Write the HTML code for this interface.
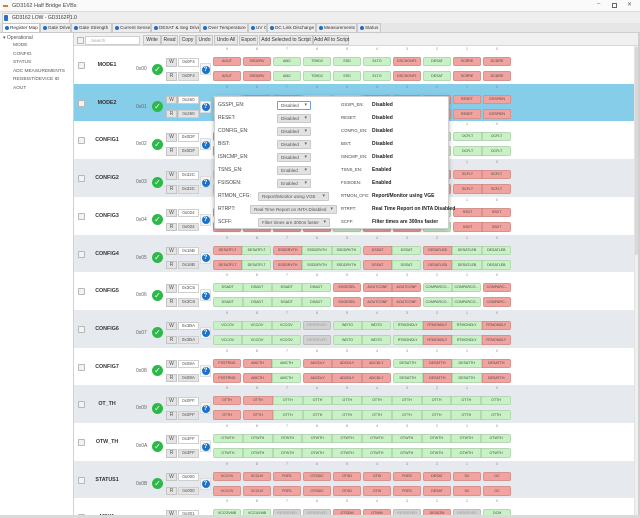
<!DOCTYPE html>
<html style="overflow:hidden"><head><meta charset="utf-8">
<style>
*{box-sizing:border-box}
html,body{margin:0;padding:0;width:640px;height:518px;overflow:hidden;background:#fff}
#root{position:relative;width:640px;height:518px;overflow:hidden;background:#fff;font-family:"Liberation Sans",sans-serif;color:#333}
.a{position:absolute}
.row{position:absolute;left:74px;width:560px;height:37.7px}
.w{background:#fff}.gy{background:#e6e9ed}.bl{background:#86cdea}
.cb{position:absolute;left:4px;top:16px;width:7px;height:7px;border:1px solid #b8b8b8;background:#f3f3f3;border-radius:1px}
.nm{position:absolute;left:10px;width:46px;top:16px;text-align:center;font-size:5.3px;font-weight:bold;color:#333}
.ad{position:absolute;left:62px;top:20px;font-size:5px;color:#666}
.ok{position:absolute;left:78px;top:17.5px;width:11px;height:11px;border-radius:50%;background:#2db84a;color:#fff;font-size:8px;line-height:11px;text-align:center;font-weight:bold;font-family:"DejaVu Sans",sans-serif}
.bw{position:absolute;left:92px;width:11px;height:8.5px;background:#e4e4e4;border:1px solid #c4c4c4;font-size:5px;line-height:6.5px;text-align:center;color:#555}
.vw{position:absolute;left:104px;width:21px;height:8.5px;background:#fff;border:1px solid #cfcfcf;font-size:4.5px;line-height:6.5px;text-align:center;color:#555}
.vr{background:#e4e4e4}
.hp{position:absolute;left:126px;top:17px;width:11px;height:12px;background:#f4f4f4;border:1px solid #dcdcdc;border-radius:1px}
.hp b{position:absolute;left:0.5px;top:1.5px;width:8px;height:8px;border-radius:50%;background:#1a73c8;color:#fff;font-size:6px;line-height:8px;text-align:center}
.lb{position:absolute;left:139px;top:1px;display:flex;font-size:3.5px;color:#888;line-height:5px}
.lb span{width:30px;padding-right:2px;text-align:center}
.c{position:absolute;left:139px;display:flex;gap:2px;height:9px;font-size:3.6px;line-height:9px;color:#4a4a4a}
.t{top:11px}.u{top:25px;height:10px;line-height:10px}
.c>i,.c>div>i{font-style:normal;text-align:center;white-space:nowrap;overflow:hidden;box-shadow:inset 0 0 0 0.6px rgba(0,0,0,.16)}
.c>i{width:28px;border-radius:2px}
.c>div{display:flex;border-radius:2px;overflow:hidden}
.c>div>i{flex:1}
.w2{width:58px}.w3{width:88px}.w4{width:118px}.w10{width:298px}
.r{background:#f0a39f}.G{background:#c8f1c5}.x{background:#d2d2d2;color:#9a9a9a}
.tab{position:absolute;top:23px;height:10px;border:1px solid #c9c9c9;background:#ececec;font-size:4.7px;line-height:8px;color:#333;padding-left:7px;white-space:nowrap;overflow:hidden}
.tab:before{content:"";position:absolute;left:1.5px;top:2px;width:4px;height:4px;border-radius:50%;background:#1c6fc4}
.btn{position:absolute;top:35px;height:10px;background:#e9e9e9;border:1px solid #c6c6c6;font-size:5px;line-height:8px;text-align:center;color:#333;white-space:nowrap}
.tr{position:absolute;left:13px;font-size:4.8px;color:#555}
.pl{position:absolute;left:3px;font-size:5px;color:#444}
.pd{position:absolute;height:9px;background:#e2e2e2;border:1px solid #c9c9c9;font-size:4.6px;line-height:7px;color:#555;padding-left:3px;border-radius:1px;white-space:nowrap}
.pd:after{content:"\25BE";position:absolute;right:3px;top:0;font-size:5px;font-family:"DejaVu Sans",sans-serif;color:#666}
.pr{position:absolute;left:126px;font-size:4.3px;color:#444;width:31px;overflow:hidden;white-space:nowrap}
.pv{position:absolute;left:157px;font-size:5px;color:#222;font-weight:bold;white-space:nowrap}
</style></head><body><div id="root">

<!-- title bar -->
<div class="a" style="left:0;top:0;width:640px;height:12px;background:#fafafa;border-bottom:1px solid #dcdcdc"></div>
<div class="a" style="left:3px;top:5px;width:5px;height:2px;background:#e07a1f"></div>
<div class="a" style="left:12px;top:3px;font-size:5.5px;color:#444">GD3162 Half Bridge EVBs</div>
<div class="a" style="left:597px;top:1px;font-size:6px;color:#666">–</div>
<div class="a" style="left:612px;top:3px;width:5px;height:5px;border:0.8px solid #666"></div>
<div class="a" style="left:627px;top:1px;font-size:6px;color:#666;font-family:'DejaVu Sans',sans-serif">✕</div>

<!-- second bar -->
<div class="a" style="left:0;top:12px;width:640px;height:11px;background:#eeeeee"></div>
<div class="a" style="left:2px;top:13px;width:68px;height:10px;background:#f7f7f7;border:1px solid #cfcfcf;border-bottom:none"></div>
<div class="a" style="left:4px;top:15px;width:4px;height:6px;background:#2a6fbf;border-radius:1px"></div>
<div class="a" style="left:12px;top:15px;font-size:5px;color:#333">GD3162 LOW - GD3162P1.0</div>

<!-- tabs row -->
<div class="a" style="left:0;top:23px;width:640px;height:10px;background:#e6e6e6;border-bottom:1px solid #cfcfcf"></div>
<div class="tab" style="left:2px;width:38px;background:#fff">Register Map</div>
<div class="tab" style="left:40px;width:31px">Gate Drive</div>
<div class="tab" style="left:71px;width:41px">Gate Strength</div>
<div class="tab" style="left:112px;width:39px">Current Sense</div>
<div class="tab" style="left:151px;width:49px">DESAT &amp; Seg Drive</div>
<div class="tab" style="left:200px;width:48px">Over Temperature</div>
<div class="tab" style="left:248px;width:19px">UV OV</div>
<div class="tab" style="left:267px;width:49px">DC Link Discharge</div>
<div class="tab" style="left:316px;width:41px">Measurements</div>
<div class="tab" style="left:357px;width:24px">Status</div>

<!-- left panel -->
<div class="a" style="left:0;top:33px;width:74px;height:485px;background:#fff;border-right:1px solid #d2d2d2"></div>
<div class="a" style="left:3px;top:35px;font-size:5px;color:#555">▾ Operational</div>
<div class="tr" style="top:43px">MODE</div>
<div class="tr" style="top:51.5px">CONFIG</div>
<div class="tr" style="top:60px">STATUS</div>
<div class="tr" style="top:68.5px">ADC MEASUREMENTS</div>
<div class="tr" style="top:77px">REGBIST/DEVICE ID</div>
<div class="tr" style="top:85.5px">AOUT</div>

<!-- toolbar -->
<div class="a" style="left:74px;top:33px;width:566px;height:13px;background:#f0f0f0;border-bottom:1px solid #d8d8d8"></div>
<div class="a" style="left:77px;top:37px;width:7px;height:7px;border:1px solid #b8b8b8;background:#f3f3f3"></div>
<div class="a" style="left:85px;top:36px;width:55px;height:9px;background:#fff;border:1px solid #cfcfcf;font-size:4.5px;line-height:7px;color:#aaa;padding-left:5px">Search</div>
<div class="btn" style="left:143px;width:18px">Write</div>
<div class="btn" style="left:161px;width:17px">Read</div>
<div class="btn" style="left:179px;width:17px">Copy</div>
<div class="btn" style="left:196px;width:17px">Undo</div>
<div class="btn" style="left:214px;width:24px">Undo All</div>
<div class="btn" style="left:239px;width:19px">Export</div>
<div class="btn" style="left:259px;width:54px">Add Selected to Script</div>
<div class="btn" style="left:313px;width:36px">Add All to Script</div>

<!-- rows -->
<div class="row w" style="top:46px">
<div class="cb"></div><div class="nm">MODE1</div><div class="ad">0x00</div><div class="ok">✓</div>
<div class="bw" style="top:12px">W</div><div class="vw" style="top:12px">0x0F4</div>
<div class="bw" style="top:26px">R</div><div class="vw vr" style="top:26px">0x0F4</div>
<div class="hp"><b>?</b></div>
<div class="lb"><span>9</span><span>8</span><span>7</span><span>6</span><span>5</span><span>4</span><span>3</span><span>2</span><span>1</span><span>0</span></div>
<div class="c t"><i class="r">AOUT</i><i class="r">SSDDRV</i><i class="G">AMC</i><i class="G">TSHD2</i><i class="G">SSD</i><i class="G">ELTO</i><i class="r">DSCHONFL</i><i class="G">DESAT</i><i class="r">SCRRE</i><i class="r">DCDRE</i></div>
<div class="c u"><i class="r">AOUT</i><i class="r">SSDDRV</i><i class="G">AMC</i><i class="G">TSHD2</i><i class="G">SSD</i><i class="G">ELTO</i><i class="r">DSCHONFL</i><i class="G">DESAT</i><i class="r">SCRRE</i><i class="r">DCDRE</i></div>
</div>

<div class="row bl" style="top:83.7px">
<div class="cb"></div><div class="nm">MODE2</div><div class="ad">0x01</div><div class="ok">✓</div>
<div class="bw" style="top:12px">W</div><div class="vw" style="top:12px">0x260</div>
<div class="bw" style="top:26px">R</div><div class="vw vr" style="top:26px">0x260</div>
<div class="hp"><b>?</b></div>
<div class="lb"><span>9</span><span>8</span><span>7</span><span>6</span><span>5</span><span>4</span><span>3</span><span>2</span><span>1</span><span>0</span></div>
<div class="c t"><i class="G">SCFF</i><i class="r">RTRPT</i><i class="r">RTMON</i><i class="G">FSISOEN</i><i class="G">TSNSEN</i><i class="r">ISNCMP</i><i class="r">BIST</i><i class="r">CONFIGEN</i><i class="r">RESET</i><i class="r">GSSPIEN</i></div>
<div class="c u"><i class="G">SCFF</i><i class="r">RTRPT</i><i class="r">RTMON</i><i class="G">FSISOEN</i><i class="G">TSNSEN</i><i class="r">ISNCMP</i><i class="r">BIST</i><i class="r">CONFIGEN</i><i class="r">RESET</i><i class="r">GSSPIEN</i></div>
</div>

<div class="row w" style="top:121.4px">
<div class="cb"></div><div class="nm">CONFIG1</div><div class="ad">0x02</div><div class="ok">✓</div>
<div class="bw" style="top:12px">W</div><div class="vw" style="top:12px">0x0DF</div>
<div class="bw" style="top:26px">R</div><div class="vw vr" style="top:26px">0x0DF</div>
<div class="hp"><b>?</b></div>
<div class="lb"><span>9</span><span>8</span><span>7</span><span>6</span><span>5</span><span>4</span><span>3</span><span>2</span><span>1</span><span>0</span></div>
<div class="c t"><i class="r">PWMDT</i><i class="r">PWMDT</i><i class="G">OCEN</i><i class="G">OCTHR</i><i class="r">OCTHR</i><i class="G">ISNS</i><i class="G">DLY</i><i class="G">OCFLT</i><div class="w2"><i class="G">OCFLT</i><i class="G">OCFLT</i></div></div>
<div class="c u"><i class="r">PWMDT</i><i class="r">PWMDT</i><i class="G">OCEN</i><i class="G">OCTHR</i><i class="r">OCTHR</i><i class="G">ISNS</i><i class="G">DLY</i><i class="G">OCFLT</i><div class="w2"><i class="G">OCFLT</i><i class="G">OCFLT</i></div></div>
</div>

<div class="row gy" style="top:159.1px">
<div class="cb"></div><div class="nm">CONFIG2</div><div class="ad">0x03</div><div class="ok">✓</div>
<div class="bw" style="top:12px">W</div><div class="vw" style="top:12px">0x32C</div>
<div class="bw" style="top:26px">R</div><div class="vw vr" style="top:26px">0x32C</div>
<div class="hp"><b>?</b></div>
<div class="lb"><span>9</span><span>8</span><span>7</span><span>6</span><span>5</span><span>4</span><span>3</span><span>2</span><span>1</span><span>0</span></div>
<div class="c t"><i class="G">SCEN</i><i class="G">SCTHR</i><i class="r">SCTHR</i><i class="r">SCTHR</i><i class="G">SCMODE</i><i class="r">SCDLY</i><i class="G">SCDLY</i><i class="r">SCDLY</i><div class="w2"><i class="r">SCFLT</i><i class="r">SCFLT</i></div></div>
<div class="c u"><i class="G">SCEN</i><i class="G">SCTHR</i><i class="r">SCTHR</i><i class="r">SCTHR</i><i class="G">SCMODE</i><i class="r">SCDLY</i><i class="G">SCDLY</i><i class="r">SCDLY</i><div class="w2"><i class="r">SCFLT</i><i class="r">SCFLT</i></div></div>
</div>

<div class="row w" style="top:196.8px">
<div class="cb"></div><div class="nm">CONFIG3</div><div class="ad">0x04</div><div class="ok">✓</div>
<div class="bw" style="top:12px">W</div><div class="vw" style="top:12px">0x024</div>
<div class="bw" style="top:26px">R</div><div class="vw vr" style="top:26px">0x024</div>
<div class="hp"><b>?</b></div>
<div class="lb"><span>9</span><span>8</span><span>7</span><span>6</span><span>5</span><span>4</span><span>3</span><span>2</span><span>1</span><span>0</span></div>
<div class="c t"><i class="r">TBLANK</i><i class="r">TBLANK</i><i class="r">SSDCFG</i><i class="r">SSDCFG</i><i class="G">SSDCFG</i><i class="r">SSDEN</i><i class="r">SSDEN</i><i class="G">SSDEN</i><div class="w2"><i class="r">SSDT</i><i class="r">SSDT</i></div></div>
<div class="c u"><i class="r">TBLANK</i><i class="r">TBLANK</i><i class="r">SSDCFG</i><i class="r">SSDCFG</i><i class="G">SSDCFG</i><i class="r">SSDEN</i><i class="r">SSDEN</i><i class="G">SSDEN</i><div class="w2"><i class="r">SSDT</i><i class="r">SSDT</i></div></div>
</div>

<div class="row gy" style="top:234.5px">
<div class="cb"></div><div class="nm">CONFIG4</div><div class="ad">0x05</div><div class="ok">✓</div>
<div class="bw" style="top:12px">W</div><div class="vw" style="top:12px">0x16B</div>
<div class="bw" style="top:26px">R</div><div class="vw vr" style="top:26px">0x16B</div>
<div class="hp"><b>?</b></div>
<div class="lb"><span>9</span><span>8</span><span>7</span><span>6</span><span>5</span><span>4</span><span>3</span><span>2</span><span>1</span><span>0</span></div>
<div class="c t"><div class="w2"><i class="r">DESATFLT</i><i class="G">DESATFLT</i></div><div class="w3"><i class="r">SSDDRVTH</i><i class="G">SSDDRVTH</i><i class="G">SSDDRVTH</i></div><div class="w2"><i class="r">DSSAT</i><i class="G">DSSAT</i></div><div class="w3"><i class="r">DESATLEB</i><i class="G">DESATLEB</i><i class="G">DESATLEB</i></div></div>
<div class="c u"><div class="w2"><i class="r">DESATFLT</i><i class="G">DESATFLT</i></div><div class="w3"><i class="r">SSDDRVTH</i><i class="G">SSDDRVTH</i><i class="G">SSDDRVTH</i></div><div class="w2"><i class="r">DSSAT</i><i class="G">DSSAT</i></div><div class="w3"><i class="r">DESATLEB</i><i class="G">DESATLEB</i><i class="G">DESATLEB</i></div></div>
</div>

<div class="row w" style="top:272.2px">
<div class="cb"></div><div class="nm">CONFIG5</div><div class="ad">0x06</div><div class="ok">✓</div>
<div class="bw" style="top:12px">W</div><div class="vw" style="top:12px">0x3C6</div>
<div class="bw" style="top:26px">R</div><div class="vw vr" style="top:26px">0x3C6</div>
<div class="hp"><b>?</b></div>
<div class="lb"><span>9</span><span>8</span><span>7</span><span>6</span><span>5</span><span>4</span><span>3</span><span>2</span><span>1</span><span>0</span></div>
<div class="c t"><div class="w4"><i class="G">DSADT</i><i class="G">DSADT</i><i class="G">DSADT</i><i class="G">DSADT</i></div><i class="r">EDGESEL</i><div class="w2"><i class="r">AOUTCONF</i><i class="r">AOUTCONF</i></div><div class="w2"><i class="G">COMPARCO...</i><i class="G">COMPARCO...</i></div><i class="r">COMPARC...</i></div>
<div class="c u"><div class="w4"><i class="G">DSADT</i><i class="G">DSADT</i><i class="G">DSADT</i><i class="G">DSADT</i></div><i class="r">EDGESEL</i><div class="w2"><i class="r">AOUTCONF</i><i class="r">AOUTCONF</i></div><div class="w2"><i class="G">COMPARCO...</i><i class="G">COMPARCO...</i></div><i class="r">COMPARC...</i></div>
</div>

<div class="row gy" style="top:309.9px">
<div class="cb"></div><div class="nm">CONFIG6</div><div class="ad">0x07</div><div class="ok">✓</div>
<div class="bw" style="top:12px">W</div><div class="vw" style="top:12px">0x3BA</div>
<div class="bw" style="top:26px">R</div><div class="vw vr" style="top:26px">0x3BA</div>
<div class="hp"><b>?</b></div>
<div class="lb"><span>9</span><span>8</span><span>7</span><span>6</span><span>5</span><span>4</span><span>3</span><span>2</span><span>1</span><span>0</span></div>
<div class="c t"><div class="w3"><i class="G">VCCOV</i><i class="G">VCCOV</i><i class="G">VCCOV</i></div><i class="x">RESERVED</i><div class="w2"><i class="G">WDTO</i><i class="G">WDTO</i></div><div class="w4"><i class="G">RTMONDLY</i><i class="r">RTMONDLY</i><i class="G">RTMONDLY</i><i class="r">RTMONDLY</i></div></div>
<div class="c u"><div class="w3"><i class="G">VCCOV</i><i class="G">VCCOV</i><i class="G">VCCOV</i></div><i class="x">RESERVED</i><div class="w2"><i class="G">WDTO</i><i class="G">WDTO</i></div><div class="w4"><i class="G">RTMONDLY</i><i class="r">RTMONDLY</i><i class="G">RTMONDLY</i><i class="r">RTMONDLY</i></div></div>
</div>

<div class="row w" style="top:347.6px">
<div class="cb"></div><div class="nm">CONFIG7</div><div class="ad">0x08</div><div class="ok">✓</div>
<div class="bw" style="top:12px">W</div><div class="vw" style="top:12px">0x08A</div>
<div class="bw" style="top:26px">R</div><div class="vw vr" style="top:26px">0x08A</div>
<div class="hp"><b>?</b></div>
<div class="lb"><span>9</span><span>8</span><span>7</span><span>6</span><span>5</span><span>4</span><span>3</span><span>2</span><span>1</span><span>0</span></div>
<div class="c t"><i class="r">FSSTRNG</i><div class="w2"><i class="r">AMCTH</i><i class="G">AMCTH</i></div><div class="w3"><i class="r">ADCDLY</i><i class="r">ADCDLY</i><i class="r">ADCDLY</i></div><div class="w4"><i class="G">DESATTH</i><i class="r">DESATTH</i><i class="G">DESATTH</i><i class="r">DESATTH</i></div></div>
<div class="c u"><i class="r">FSSTRNG</i><div class="w2"><i class="r">AMCTH</i><i class="G">AMCTH</i></div><div class="w3"><i class="r">ADCDLY</i><i class="r">ADCDLY</i><i class="r">ADCDLY</i></div><div class="w4"><i class="G">DESATTH</i><i class="r">DESATTH</i><i class="G">DESATTH</i><i class="r">DESATTH</i></div></div>
</div>

<div class="row gy" style="top:385.3px">
<div class="cb"></div><div class="nm">OT_TH</div><div class="ad">0x09</div><div class="ok">✓</div>
<div class="bw" style="top:12px">W</div><div class="vw" style="top:12px">0x0FF</div>
<div class="bw" style="top:26px">R</div><div class="vw vr" style="top:26px">0x0FF</div>
<div class="hp"><b>?</b></div>
<div class="lb"><span>9</span><span>8</span><span>7</span><span>6</span><span>5</span><span>4</span><span>3</span><span>2</span><span>1</span><span>0</span></div>
<div class="c t"><i class="r">OTTH</i><div class="w10" style="width:268px"><i class="r">OTTH</i><i class="G">OTTH</i><i class="G">OTTH</i><i class="G">OTTH</i><i class="G">OTTH</i><i class="G">OTTH</i><i class="G">OTTH</i><i class="G">OTTH</i><i class="G">OTTH</i></div></div>
<div class="c u"><i class="r">OTTH</i><div class="w10" style="width:268px"><i class="r">OTTH</i><i class="G">OTTH</i><i class="G">OTTH</i><i class="G">OTTH</i><i class="G">OTTH</i><i class="G">OTTH</i><i class="G">OTTH</i><i class="G">OTTH</i><i class="G">OTTH</i></div></div>
</div>

<div class="row w" style="top:423px">
<div class="cb"></div><div class="nm">OTW_TH</div><div class="ad">0x0A</div><div class="ok">✓</div>
<div class="bw" style="top:12px">W</div><div class="vw" style="top:12px">0x3FF</div>
<div class="bw" style="top:26px">R</div><div class="vw vr" style="top:26px">0x3FF</div>
<div class="hp"><b>?</b></div>
<div class="lb"><span>9</span><span>8</span><span>7</span><span>6</span><span>5</span><span>4</span><span>3</span><span>2</span><span>1</span><span>0</span></div>
<div class="c t"><div class="w10"><i class="G">OTWTH</i><i class="G">OTWTH</i><i class="G">OTWTH</i><i class="G">OTWTH</i><i class="G">OTWTH</i><i class="G">OTWTH</i><i class="G">OTWTH</i><i class="G">OTWTH</i><i class="G">OTWTH</i><i class="G">OTWTH</i></div></div>
<div class="c u"><div class="w10"><i class="G">OTWTH</i><i class="G">OTWTH</i><i class="G">OTWTH</i><i class="G">OTWTH</i><i class="G">OTWTH</i><i class="G">OTWTH</i><i class="G">OTWTH</i><i class="G">OTWTH</i><i class="G">OTWTH</i><i class="G">OTWTH</i></div></div>
</div>

<div class="row gy" style="top:460.7px">
<div class="cb"></div><div class="nm">STATUS1</div><div class="ad">0x0B</div><div class="ok">✓</div>
<div class="bw" style="top:12px">W</div><div class="vw" style="top:12px">0x000</div>
<div class="bw" style="top:26px">R</div><div class="vw vr" style="top:26px">0x000</div>
<div class="hp"><b>?</b></div>
<div class="lb"><span>9</span><span>8</span><span>7</span><span>6</span><span>5</span><span>4</span><span>3</span><span>2</span><span>1</span><span>0</span></div>
<div class="c t"><i class="r">VCCOV</i><i class="r">VCCUV</i><i class="r">POR1</i><i class="r">OTSDIC</i><i class="r">OTSD</i><i class="r">OTW</i><i class="r">POR2</i><i class="r">DESAT</i><i class="r">SC</i><i class="r">OC</i></div>
<div class="c u"><i class="r">VCCOV</i><i class="r">VCCUV</i><i class="r">POR1</i><i class="r">OTSDIC</i><i class="r">OTSD</i><i class="r">OTW</i><i class="r">POR2</i><i class="r">DESAT</i><i class="r">SC</i><i class="r">OC</i></div>
</div>

<div class="row w" style="top:498.4px">
<div class="cb"></div><div class="nm">MSK1</div><div class="ad">0x0C</div><div class="ok">✓</div>
<div class="bw" style="top:12px">W</div><div class="vw" style="top:12px">0x301</div>
<div class="bw" style="top:26px">R</div><div class="vw vr" style="top:26px">0x301</div>
<div class="hp"><b>?</b></div>
<div class="lb"><span>9</span><span>8</span><span>7</span><span>6</span><span>5</span><span>4</span><span>3</span><span>2</span><span>1</span><span>0</span></div>
<div class="c t"><i class="G">VCCOVMB</i><i class="G">VCCUVMB</i><i class="x">RESERVED</i><i class="x">RESERVED</i><i class="r">OTSDM</i><i class="r">OTWM</i><i class="x">RESERVED</i><i class="r">DESATM</i><i class="x">RESERVED</i><i class="G">OCM</i></div>
</div>

<!-- scrollbar -->
<div class="a" style="left:634px;top:46px;width:4px;height:472px;background:#f0f0f0;border-left:1px solid #e2e2e2"></div>
<div class="a" style="left:634.5px;top:47px;width:3px;height:208px;background:#d9d9d9;border-radius:1px"></div>
<div class="a" style="left:638px;top:33px;width:2px;height:485px;background:#d0d0d0"></div>
<div class="a" style="left:0;top:515px;width:640px;height:3px;background:#dadada"></div>

<!-- popup -->
<div class="a" style="left:214px;top:96px;width:235px;height:133px;background:#fff;border:1px solid #cfcfcf;box-shadow:0 1px 4px rgba(0,0,0,.3);border-radius:2px;z-index:5">
<div class="pl" style="top:5px">GSSPI_EN:</div>
<div class="pl" style="top:18px">RESET:</div>
<div class="pl" style="top:31px">CONFIG_EN:</div>
<div class="pl" style="top:44px">BIST:</div>
<div class="pl" style="top:57px">ISNCMP_EN:</div>
<div class="pl" style="top:70px">TSNS_EN:</div>
<div class="pl" style="top:83px">FSISOEN:</div>
<div class="pl" style="top:96px">RTMON_CFG:</div>
<div class="pl" style="top:109px">RTRPT:</div>
<div class="pl" style="top:122px">SCFF:</div>

<div class="pd" style="left:62px;top:3.5px;width:34px;background:#fff;border-color:#6fa0d8">Disabled</div>
<div class="pd" style="left:62px;top:16.5px;width:34px">Disabled</div>
<div class="pd" style="left:62px;top:29.5px;width:34px">Disabled</div>
<div class="pd" style="left:62px;top:42.5px;width:34px">Disabled</div>
<div class="pd" style="left:62px;top:55.5px;width:34px">Disabled</div>
<div class="pd" style="left:62px;top:68.5px;width:34px">Enabled</div>
<div class="pd" style="left:62px;top:81.5px;width:34px">Enabled</div>
<div class="pd" style="left:43px;top:94.5px;width:71px">Report/Monitor using VGE</div>
<div class="pd" style="left:35px;top:107.5px;width:87px">Real Time Report on INTA Disabled</div>
<div class="pd" style="left:43px;top:120.5px;width:72px">Filter times are 300ns faster</div>

<div class="pr" style="top:5.3px">GSSPI_EN:</div>
<div class="pr" style="top:18.3px">RESET:</div>
<div class="pr" style="top:31.3px">CONFIG_EN:</div>
<div class="pr" style="top:44.3px">BIST:</div>
<div class="pr" style="top:57.3px">ISNCMP_EN:</div>
<div class="pr" style="top:70.3px">TSNS_EN:</div>
<div class="pr" style="top:83.3px">FSISOEN:</div>
<div class="pr" style="top:96.3px">RTMON_CFG:</div>
<div class="pr" style="top:109.3px">RTRPT:</div>
<div class="pr" style="top:122.3px">SCFF:</div>

<div class="pv" style="top:5px">Disabled</div>
<div class="pv" style="top:18px">Disabled</div>
<div class="pv" style="top:31px">Disabled</div>
<div class="pv" style="top:44px">Disabled</div>
<div class="pv" style="top:57px">Disabled</div>
<div class="pv" style="top:70px">Enabled</div>
<div class="pv" style="top:83px">Enabled</div>
<div class="pv" style="top:96px">Report/Monitor using VGE</div>
<div class="pv" style="top:109px">Real Time Report on INTA Disabled</div>
<div class="pv" style="top:122px">Filter times are 300ns faster</div>
</div>

</div></body></html>
